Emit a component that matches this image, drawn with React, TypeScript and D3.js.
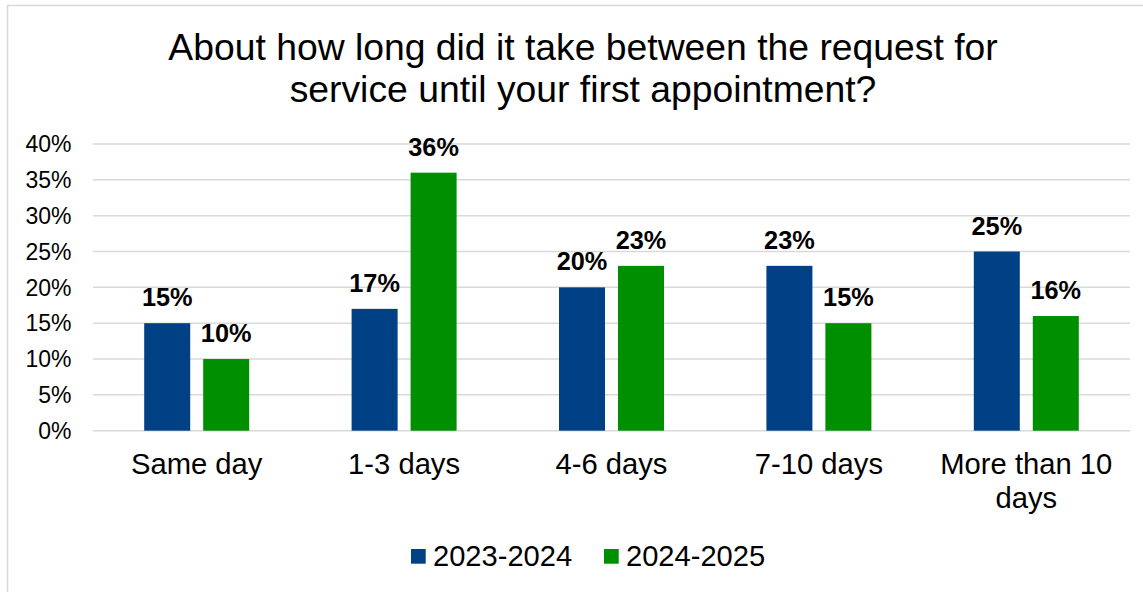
import React from "react";
import * as d3 from "d3";

const categories: string[][] = [
  ["Same day"],
  ["1-3 days"],
  ["4-6 days"],
  ["7-10 days"],
  ["More than 10", "days"],
];
const seriesNames = ["2023-2024", "2024-2025"];
const values2023 = [15, 17, 20, 23, 25];
const values2024 = [10, 36, 23, 15, 16];
const yTicks = [0, 5, 10, 15, 20, 25, 30, 35, 40];
const titleLines = [
  "About how long did it take between the request for",
  "service until your first appointment?",
];
const colors = ["#004186", "#008f00"];

const W = 1143;
const H = 592;
const FONT = "'Liberation Sans', Arial, sans-serif";

export default function App() {
  const plotLeft = 93;
  const plotRight = 1130;
  const plotTop = 144;
  const plotBottom = 430.7;

  const catKeys = categories.map((c) => c.join(" "));
  const x = d3.scaleBand<string>().domain(catKeys).range([plotLeft, plotRight]).padding(0);
  const xInner = d3
    .scaleBand<string>()
    .domain(seriesNames)
    .range([0, x.bandwidth()])
    .paddingInner(0.22)
    .paddingOuter(0.868);
  const y = d3.scaleLinear().domain([0, 40]).range([plotBottom, plotTop]);

  const seriesValues = [values2023, values2024];

  return (
    <svg
      width={W}
      height={H}
      style={{ position: "absolute", left: 0, top: 0, background: "#fff" }}
      fontFamily={FONT}
    >
      <rect x={0} y={0} width={W} height={H} fill="#fff" />
      <rect x={7.5} y={5.5} width={W + 10} height={H + 10} fill="none" stroke="#d9d9d9" strokeWidth={1.5} />
      {titleLines.map((t, i) => (
        <text key={i} x={583} y={60 + i * 42} textAnchor="middle" fontSize={37.3} fill="#000">
          {t}
        </text>
      ))}
      {yTicks.map((t) => (
        <g key={t}>
          <line x1={plotLeft} x2={plotRight} y1={y(t)} y2={y(t)} stroke="#d9d9d9" strokeWidth={1.5} />
          <text x={71.5} y={y(t)} dy="0.36em" textAnchor="end" fontSize={23} fill="#000">
            {t}%
          </text>
        </g>
      ))}
      {catKeys.map((k, ci) => (
        <g key={k}>
          {seriesNames.map((s, si) => {
            const v = seriesValues[si][ci];
            const bx = (x(k) ?? 0) + (xInner(s) ?? 0);
            return (
              <g key={s}>
                <rect x={bx} y={y(v)} width={xInner.bandwidth()} height={plotBottom - y(v)} fill={colors[si]} />
                <text
                  x={bx + xInner.bandwidth() / 2}
                  y={y(v) - 17}
                  textAnchor="middle"
                  fontSize={25.3}
                  fontWeight="bold"
                  fill="#000"
                >
                  {v}%
                </text>
              </g>
            );
          })}
          {categories[ci].map((line, li) => (
            <text
              key={li}
              x={(x(k) ?? 0) + x.bandwidth() / 2}
              y={474 + li * 34}
              textAnchor="middle"
              fontSize={29.2}
              fill="#000"
            >
              {line}
            </text>
          ))}
        </g>
      ))}
      {seriesNames.map((s, si) => {
        const lx = [411, 604][si];
        return (
          <g key={s}>
            <rect x={lx} y={549} width={14.7} height={14.7} fill={colors[si]} />
            <text x={lx + 22} y={566} fontSize={29.1} fill="#000">
              {s}
            </text>
          </g>
        );
      })}
    </svg>
  );
}
